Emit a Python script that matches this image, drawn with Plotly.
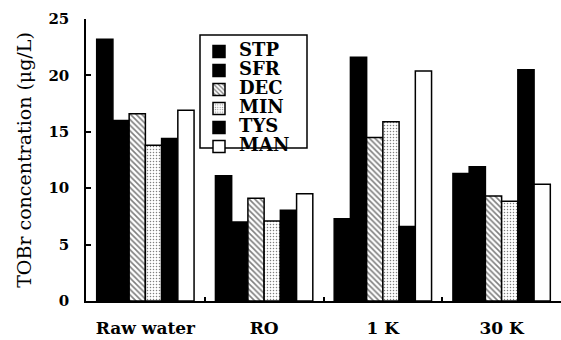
import plotly.graph_objects as go

categories = ["Raw water", "RO", "1 K", "30 K"]
series_names = ["STP", "SFR", "DEC", "MIN", "TYS", "MAN"]
STP = [23.2, 11.1, 7.3, 11.3]
SFR = [16.0, 7.0, 21.6, 11.9]
DEC = [16.6, 9.1, 14.5, 9.3]
MIN = [13.8, 7.1, 15.9, 8.85]
TYS = [14.4, 8.05, 6.6, 20.5]
MAN = [16.9, 9.5, 20.4, 10.35]
y_ticks = [0, 5, 10, 15, 20, 25]

series_values = [STP, SFR, DEC, MIN, TYS, MAN]

styles = {
    "STP": dict(color="black", pattern=None),
    "SFR": dict(color="black", pattern=None),
    "DEC": dict(color="white", pattern=dict(shape="\\", fgcolor="black", bgcolor="white", size=4, solidity=0.4)),
    "MIN": dict(color="white", pattern=dict(shape=".", fgcolor="black", bgcolor="white", size=3, solidity=0.2)),
    "TYS": dict(color="black", pattern=None),
    "MAN": dict(color="white", pattern=None),
}

FONT = "DejaVu Serif"
fig = go.Figure()
for name, vals in zip(series_names, series_values):
    st = styles[name]
    marker = dict(color=st["color"], line=dict(color="black", width=1.5))
    if st["pattern"] is not None:
        marker["pattern"] = st["pattern"]
    fig.add_trace(go.Bar(
        x=categories, y=vals,
        name='<b><span style="font-size:18px">%s</span></b>' % name,
        marker=marker,
    ))

W, H = 561, 340
ml, mr, mt, mb = 86, 0, 19, 39
pw, ph = W - ml - mr, H - mt - mb

def px_x(p):
    return (p - ml) / pw

def px_y(p):
    return 1 - (p - mt) / ph

fig.update_layout(
    width=W, height=H,
    margin=dict(l=ml, r=mr, t=mt, b=mb, pad=0),
    paper_bgcolor="white", plot_bgcolor="white",
    barmode="group", bargap=0.18, bargroupgap=0,
    font=dict(family=FONT, color="black"),
    showlegend=True,
    legend=dict(
        x=px_x(199), xanchor="left", y=px_y(37), yanchor="top",
        bgcolor="rgba(0,0,0,0)", borderwidth=0,
        font=dict(family=FONT, size=11, color="black"),
        itemwidth=30, tracegroupgap=0,
    ),
    shapes=[dict(
        type="rect", xref="paper", yref="paper",
        x0=px_x(200), x1=px_x(307), y0=px_y(148), y1=px_y(35),
        line=dict(color="black", width=1.5), fillcolor="rgba(0,0,0,0)",
    )],
    xaxis=dict(
        type="category", range=[-0.5, 3.5],
        showline=True, linecolor="black", linewidth=1.5,
        ticks="inside", tickson="boundaries", ticklen=4, tickcolor="black", tickwidth=1.5,
        showgrid=False, zeroline=False,
        tickfont=dict(family=FONT, size=17, color="black", weight="bold"),
        ticklabelstandoff=11,
    ),
    yaxis=dict(
        range=[0, 25], tickvals=y_ticks,
        showline=True, linecolor="black", linewidth=1.5,
        ticks="inside", ticklen=5, tickcolor="black", tickwidth=1.5,
        showgrid=False, zeroline=False,
        tickfont=dict(family=FONT, size=15, color="black", weight="bold"),
        ticklabelstandoff=12,
        title=dict(text="TOBr concentration (μg/L)", standoff=12,
                   font=dict(family=FONT, size=19, color="black")),
    ),
)

fig.write_html("out.html")
